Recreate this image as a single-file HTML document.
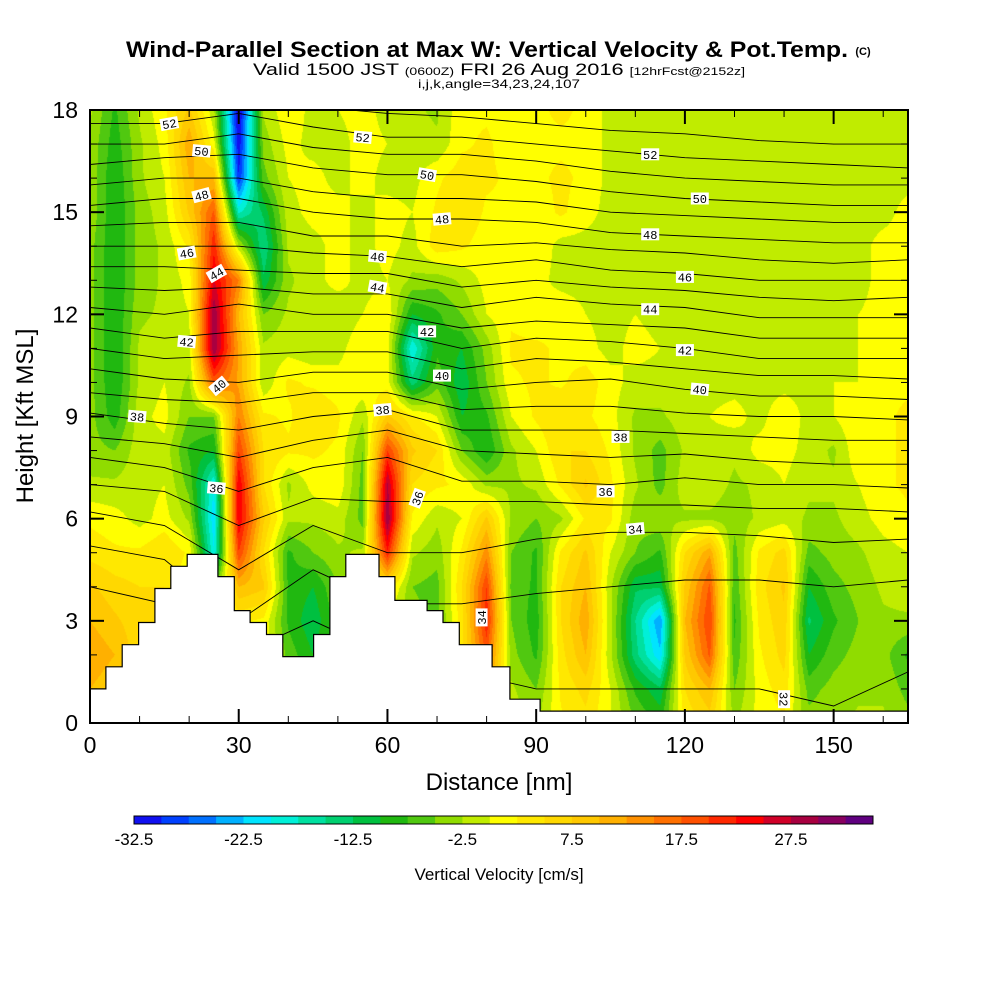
<!DOCTYPE html>
<html><head><meta charset="utf-8">
<style>
html,body{margin:0;padding:0;background:#fff;}
#wrap{position:relative;width:1000px;height:1000px;overflow:hidden;font-family:"Liberation Sans",sans-serif;}
canvas{position:absolute;left:90px;top:110px;}
svg{position:absolute;left:0;top:0;}
</style></head>
<body>
<div id="wrap">
<canvas id="field" width="818" height="613"></canvas>
<svg id="ov" width="1000" height="1000" xmlns="http://www.w3.org/2000/svg">
<text x="487" y="57" font-size="22" font-weight="bold" text-anchor="middle" textLength="722" lengthAdjust="spacingAndGlyphs">Wind-Parallel Section at Max W: Vertical Velocity &amp; Pot.Temp.</text>
<text x="863" y="55" font-size="11" font-weight="bold" text-anchor="middle">(C)</text>
<text x="499" y="75" font-size="17" text-anchor="middle" textLength="492" lengthAdjust="spacingAndGlyphs">Valid 1500 JST <tspan font-size="11">(0600Z)</tspan> FRI 26 Aug 2016 <tspan font-size="11">[12hrFcst@2152z]</tspan></text>
<text x="499" y="88" font-size="12" text-anchor="middle" textLength="162" lengthAdjust="spacingAndGlyphs">i,j,k,angle=34,23,24,107</text>
<g id="contours"></g>
<g id="terrain"></g>
<g id="clabels"></g>
<rect x="90" y="110" width="818" height="613" fill="none" stroke="#000" stroke-width="2"/>
<g id="axes"></g>
<text x="499" y="790" font-size="24" text-anchor="middle">Distance [nm]</text>
<text x="0" y="0" font-size="24" text-anchor="middle" transform="translate(33,416) rotate(-90)">Height [Kft MSL]</text>
<g id="cbar"></g>
<text x="499" y="880" font-size="17" text-anchor="middle">Vertical Velocity [cm/s]</text>
</svg>
</div>
<script>
// ---- data ----
const binColors = ["#1010f0","#0040ff","#0070ff","#00b0ff","#00e4ff","#00f0d8","#00e0a0","#00d070","#00c040","#20b810","#50c810","#90dc00","#c0ec00","#ffff00","#ffe800","#ffd800","#ffc800","#ffb000","#ff9000","#ff7000","#ff5000","#ff2800","#ff0000","#d00028","#a80040","#880060","#600080"];
const cbarLabels = [-32.5,-22.5,-12.5,-2.5,7.5,17.5,27.5];
const xTicks = [0,30,60,90,120,150];
const yTicks = [0,3,6,9,12,15,18];
// vertical velocity (cm/s), rows from 18 kft down to 0 kft, columns every 5 nm (0..165)
const wField = [
[-2,-8,-2,2,8,-2,-34,-2,2,-1, 0,1,-1,-2,-3,2,2,1,2,3, 2,-1,-1,-1,-1,-1,-1,-1,-1,-1, -1,-1,-1,-1],
[-3,-9,-3,1,12,1,-32,-4,1,-1, -1,1,0,-1,-2,2,3,1,2,2, 2,-1,-1,-1,-1,-1,-1,-1,-1,-1, -1,-1,-1,-1],
[-3,-10,-3,0,10,10,-30,-6,0,1, -1,1,-1,-1,2,4,3,2,2,3, 2,-1,-1,-1,-1,-1,-1,-1,-1,-1, -1,-1,-1,-1],
[-3,-10,-4,-1,8,18,-18,-12,-1,1, 1,-1,1,0,3,5,2,2,1,3, 1,-1,-1,-1,-1,-1,-1,-1,-1,-1, -1,-1,-1,1],
[-4,-10,-4,-2,3,22,-2,-15,-2,-1, 1,-1,1,-1,4,3,1,1,2,-1, -1,-1,0,-1,-1,-1,-1,-1,-1,-1, -1,-1,1,1],
[-4,-10,-4,-2,1,25,15,-12,-3,-1, 1,-1,0,-3,-4,-2,1,1,1,-1, -1,-1,-1,-1,-1,-1,-1,-1,-1,-1, -1,-1,1,2],
[-4,-10,-3,-2,0,30,10,-5,-2,-1, -2,0,2,-10,-8,-5,0,2,1,2, 0,-1,0,-1,-1,-1,-1,-1,-1,-1, -1,0,1,1],
[-4,-10,-2,-1,-1,30,12,-2,-1,-2, -1,2,1,-20,-8,-10,-4,3,3,2, 1,-1,1,0,-1,-1,-1,-1,-1,-1, -1,0,2,2],
[-4,-10,-2,0,-3,18,12,-2,3,2, 1,2,1,-14,-6,-12,-5,2,3,2, 4,1,-1,-1,-2,-1,-1,-1,-1,-1, 0,0,2,2],
[-4,-9,-1,1,-5,-5,15,3,2,5, 3,-2,8,3,0,-10,-8,0,3,5, 3,1,-3,-3,-1,0,1,-1,2,-1, 0,2,2,3],
[-4,-5,-1,-1,-8,-10,20,5,3,3, 2,-5,20,8,5,-5,-10,-3,0,5, 5,2,-3,-6,-2,-1,-2,1,1,-1, -3,2,2,3],
[-2,-2,-1,0,-6,-20,25,5,-3,1, 2,-6,28,5,3,2,-3,-3,-2,3, 8,3,-2,-6,-1,-1,-3,-2,0,-2, -2,0,2,3],
[2,1,-1,1,-3,-22,25,8,-2,-2, -1,-6,30,2,-2,0,8,-3,-5,-3, 3,3,-4,-3,-3,-3,-4,-2,-1,-3, -3,-1,1,2],
[4,3,3,5,2,-20,20,5,-8,-5, -3,-2,22,-2,-4,3,14,-5,-8,3, 8,0,-5,-8,5,12,-6,3,6,-6, -4,-3,-1,0],
[8,6,5,5,0,-5,10,8,-8,-10, -5,0,5,-5,-6,5,20,-6,-8,5, 10,-2,-12,-12,8,18,-7,4,8,-10, -6,-4,-2,-1],
[10,8,6,5,0,0,3,2,-8,-12, -6,0,-2,-4,-6,4,22,-5,-9,5, 12,-2,-15,-25,10,20,-8,3,7,-13, -8,-5,-3,-3],
[12,10,6,5,0,0,3,2,-6,-10, -5,0,-2,-4,-5,4,18,-4,-8,4, 10,-2,-14,-22,8,18,-7,2,6,-10, -6,-4,-4,-8],
[10,8,5,4,0,0,2,2,-4,-6, -3,0,-1,-3,-3,3,12,-2,-5,3, 6,0,-8,-12,5,10,-5,1,4,-6, -4,-3,-3,-6],
[8,6,4,3,0,0,2,2,-3,-4, -2,0,-1,-2,-2,2,8,-1,-3,2, 4,0,-5,-8,3,6,-3,1,2,-4, -3,-2,-2,-4]
];
// potential temperature contour heights (kft) at these stations (nm)
const thetaStations = [0,15,30,45,60,75,90,105,120,135,150,165];
const thetaLevels = [53,52,51,50,49,48,47,46,45,44,43,42,41,40,39,38,37,36,35,34,33,32];
const thetaHeights = [
[18.2,18.2,18.5,18.1,17.9,17.8,17.6,17.4,17.3,17.1,17.0,17.0],
[17.6,17.6,17.9,17.5,17.2,17.2,17.0,16.8,16.6,16.5,16.4,16.3],
[17.0,17.0,17.3,16.9,16.7,16.7,16.5,16.2,16.0,15.9,15.8,15.8],
[16.4,16.6,16.7,16.3,16.1,16.1,15.9,15.6,15.4,15.3,15.2,15.2],
[15.8,16.0,16.0,15.6,15.4,15.4,15.3,15.0,14.9,14.8,14.7,14.7],
[15.2,15.4,15.4,15.0,14.8,14.8,14.7,14.4,14.3,14.2,14.1,14.1],
[14.6,14.7,14.7,14.3,14.3,14.0,14.1,13.9,13.8,13.6,13.5,13.6],
[14.0,14.0,14.0,13.8,13.7,13.4,13.6,13.3,13.2,13.0,13.0,13.0],
[13.4,13.4,13.3,13.2,13.2,12.8,13.0,12.8,12.7,12.5,12.4,12.5],
[12.8,12.7,12.8,12.6,12.6,12.2,12.5,12.3,12.2,11.9,11.9,11.9],
[12.2,12.0,12.3,12.0,12.0,11.6,11.8,11.7,11.6,11.3,11.3,11.3],
[11.6,11.3,11.5,11.5,11.5,11.0,11.3,11.2,11.0,10.7,10.7,10.7],
[11.0,10.7,10.8,10.9,10.9,10.4,10.7,10.6,10.4,10.2,10.2,10.1],
[10.4,10.1,10.0,10.3,10.3,9.8,10.0,10.1,9.8,9.6,9.6,9.5],
[9.7,9.5,9.4,9.7,9.7,9.2,9.3,9.3,9.1,9.0,9.0,8.9],
[9.1,8.8,8.6,9.0,9.2,8.6,8.6,8.6,8.5,8.4,8.3,8.3],
[8.4,8.2,7.8,8.3,8.6,8.0,7.9,7.8,7.9,7.7,7.6,7.6],
[7.8,7.5,6.8,7.5,7.8,7.1,7.1,7.0,7.2,7.0,7.0,6.9],
[7.0,6.8,5.8,6.6,6.5,6.5,6.5,6.4,6.4,6.3,6.3,6.2],
[6.2,5.8,4.5,5.8,5.0,5.0,5.4,5.6,5.6,5.5,5.3,5.4],
[5.2,4.8,3.0,4.5,3.5,3.5,3.8,4.0,4.2,4.2,4.0,4.2],
[4.0,3.5,2.0,3.0,2.0,1.5,1.0,1.0,1.0,1.0,0.5,1.5]
];
// contour labels: value, nm, kft, rotation
const labelVals = [52,50,48,46,44,42,40,38,36, 52,50,48,46,44,42,40,38,36,34, 52,50,48,46,44,42,40,38,36,34,32];
const labelNm = [16,22.5,22.5,19.5,25.5,19.5,26,9.5,25.5, 55,68,71,58,58,68,71,59,66,79, 113,123,113,120,113,120,123,107,104,110,140];
const labelKft = [17.6,16.8,15.5,13.8,13.2,11.2,9.9,9.0,6.9, 17.2,16.1,14.8,13.7,12.8,11.5,10.2,9.2,6.6,3.1, 16.7,15.4,14.35,13.1,12.15,10.95,9.8,8.4,6.8,5.7,0.7];
const labelRot = [-10,5,-15,-10,-30,5,-40,5,5, 5,10,-5,5,10,0,0,-5,-70,-90, 0,0,0,0,0,0,5,0,0,-5,90];
// terrain profile: step edges (nm) and heights (kft)
const terrainX = [0,3.2,6.5,9.8,13.1,16.3,19.6,25.8,29.1,32.3,35.6,38.9,45.1,48.4,51.6,58.3,61.5,68,71.2,74.5,81.1,84.7,90.8,165];
const terrainH = [1.0,1.65,2.3,2.95,3.95,4.6,4.95,4.3,3.3,2.95,2.6,1.95,2.6,4.3,4.95,4.3,3.6,3.3,2.95,2.3,1.65,0.7,0.35,0.35];

// ---- scales ----
const X0=90,X1=908,Y0=723,Y1=110;
const xs = nm => X0 + nm*(X1-X0)/165;
const ys = k => Y0 - k*(Y0-Y1)/18;
const NS="http://www.w3.org/2000/svg";
function mk(tag,attrs,parent){const e=document.createElementNS(NS,tag);for(const k in attrs)e.setAttribute(k,attrs[k]);parent.appendChild(e);return e;}
function binOf(v){let i=Math.floor((v+32.5)/2.5);return Math.max(0,Math.min(26,i));}
function hex(c){return [parseInt(c.slice(1,3),16),parseInt(c.slice(3,5),16),parseInt(c.slice(5,7),16)];}
const rgb = binColors.map(hex);

// ---- field ----
(function(){
 const cv=document.getElementById('field'),ctx=cv.getContext('2d');
 const W=cv.width,H=cv.height,img=ctx.createImageData(W,H);
 const nr=wField.length,nc=wField[0].length;
 for(let py=0;py<H;py++){
  const k=(Y0-(py+Y1+0.5))*18/(Y0-Y1);
  let r=(18-k); if(r<0)r=0; if(r>nr-1)r=nr-1;
  const r0=Math.min(nr-2,Math.floor(r)),fr=r-r0;
  for(let px=0;px<W;px++){
   const nm=(px+0.5)*165/(X1-X0);
   let c=nm/5; if(c>nc-1)c=nc-1;
   const c0=Math.min(nc-2,Math.floor(c)),fc=c-c0;
   const v=(wField[r0][c0]*(1-fc)+wField[r0][c0+1]*fc)*(1-fr)+(wField[r0+1][c0]*(1-fc)+wField[r0+1][c0+1]*fc)*fr;
   const col=rgb[binOf(v)],i=(py*W+px)*4;
   img.data[i]=col[0];img.data[i+1]=col[1];img.data[i+2]=col[2];img.data[i+3]=255;
  }
 }
 ctx.putImageData(img,0,0);
})();

// ---- contours ----
const svgRoot=document.getElementById('ov');
const defs=mk('defs',{},svgRoot);
const cp=mk('clipPath',{id:'pcl'},defs);mk('rect',{x:X0,y:Y1,width:X1-X0,height:Y0-Y1},cp);
const cg=document.getElementById('contours');
cg.setAttribute('clip-path','url(#pcl)');
thetaLevels.forEach((lv,li)=>{
 const pts=thetaStations.map((s,i)=>xs(s).toFixed(1)+','+ys(thetaHeights[li][i]).toFixed(1)).join(' ');
 const pl=mk('polyline',{points:pts,fill:'none',stroke:'#000','stroke-width':0.9},cg);
 
 
});

// ---- terrain ----
(function(){
 let d='M'+xs(0)+','+Y0;
 for(let i=0;i<terrainX.length-1;i++){
  d+=' L'+xs(terrainX[i]).toFixed(1)+','+ys(terrainH[i]).toFixed(1)+' L'+xs(terrainX[i+1]).toFixed(1)+','+ys(terrainH[i]).toFixed(1);
 }
 d+=' L'+xs(165)+','+Y0+' Z';
 const p=mk('path',{d:d,fill:'#fff',stroke:'#000','stroke-width':1.2},document.getElementById('terrain'));
 
 
})();

// ---- contour labels ----
const lg=document.getElementById('clabels');
labelVals.forEach((v,i)=>{
 const x=xs(labelNm[i]),y=ys(labelKft[i]);
 const g=mk('g',{transform:'translate('+x.toFixed(1)+','+y.toFixed(1)+') rotate('+labelRot[i]+')'},lg);
 
 
 mk('rect',{x:-9,y:-6,width:18,height:12,fill:'#fff'},g);
 const t=mk('text',{x:0,y:4.5,'font-size':12,'text-anchor':'middle','font-family':'Liberation Mono, monospace'},g);
 t.textContent=v;
});

// ---- axes ----
const ag=document.getElementById('axes');
for(let nm=0;nm<=165;nm+=10){
 const x=xs(nm),major=nm%30===0,L=major?14:7;
 const t1=mk('line',{x1:x,y1:Y0,x2:x,y2:Y0-L,stroke:'#000','stroke-width':major?2:1},ag);
 
 
 mk('line',{x1:x,y1:Y1,x2:x,y2:Y1+L,stroke:'#000','stroke-width':major?2:1},ag);
}
for(let k=0;k<=18;k+=1){
 const y=ys(k),major=k%3===0,L=major?14:7;
 const t1=mk('line',{x1:X0,y1:y,x2:X0+L,y2:y,stroke:'#000','stroke-width':major?2:1},ag);
 
 
 mk('line',{x1:X1,y1:y,x2:X1-L,y2:y,stroke:'#000','stroke-width':major?2:1},ag);
}
xTicks.forEach(v=>{
 const t=mk('text',{x:xs(v),y:753,'font-size':23,'text-anchor':'middle'},ag);
 
 
 t.textContent=v;
});
yTicks.forEach(v=>{
 const t=mk('text',{x:78,y:ys(v)+8,'font-size':23,'text-anchor':'end'},ag);
 
 
 t.textContent=v;
});

// ---- colorbar ----
const cb=document.getElementById('cbar');
const CB0=134,CB1=873,cw=(CB1-CB0)/binColors.length;
binColors.forEach((c,i)=>{
 const r=mk('rect',{x:(CB0+i*cw).toFixed(2),y:816,width:(cw+0.5).toFixed(2),height:8,fill:c},cb);
 
 
});
mk('rect',{x:CB0,y:816,width:CB1-CB0,height:8,fill:'none',stroke:'#000','stroke-width':1},cb);
cbarLabels.forEach(v=>{
 const x=CB0+(v+32.5)/2.5*cw;
 const t=mk('text',{x:x,y:845,'font-size':17,'text-anchor':'middle'},cb);
 
 
 t.textContent=v;
});
</script>
</body></html>
